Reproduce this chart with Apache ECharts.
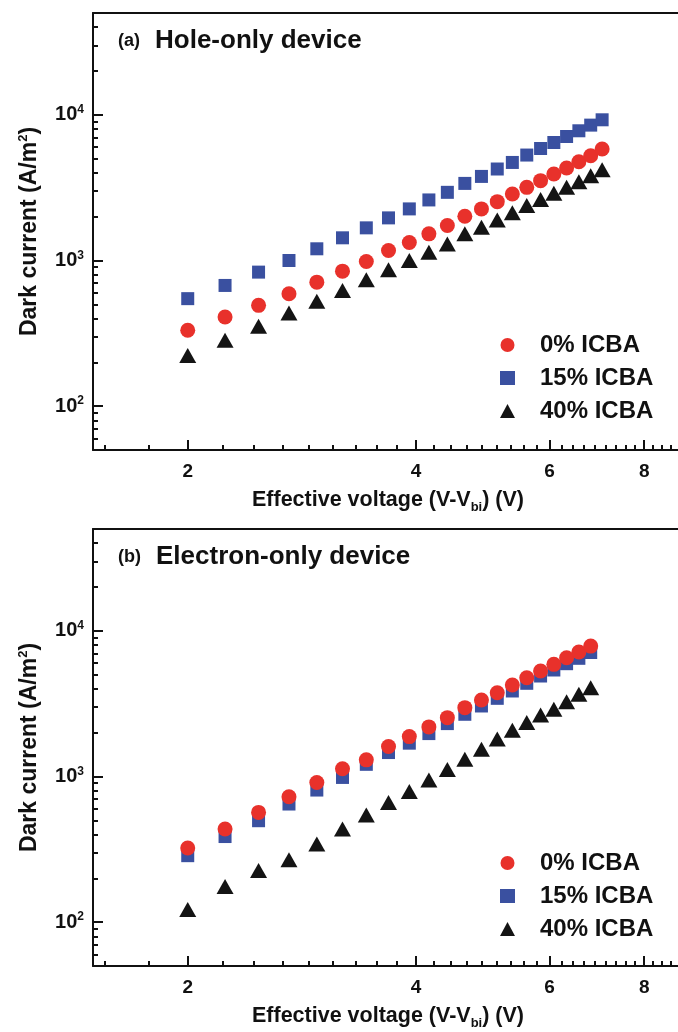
<!DOCTYPE html>
<html>
<head>
<meta charset="utf-8">
<script src="https://cdn.jsdelivr.net/npm/echarts@6/dist/echarts.min.js"></script>
<style>
html, body { margin: 0; padding: 0; background: #fff; }
#chart { width: 678px; height: 1032px; }
</style>
</head>
<body>
<div id="chart"></div>
<script>
// effective voltage (V - Vbi), volts
const voltsHole = [2.00, 2.24, 2.48, 2.72, 2.96, 3.20, 3.44, 3.68, 3.92, 4.16, 4.40, 4.64, 4.88, 5.12, 5.36, 5.60, 5.84, 6.08, 6.32, 6.56, 6.80, 7.04];
const voltsElectron = [2.00, 2.24, 2.48, 2.72, 2.96, 3.20, 3.44, 3.68, 3.92, 4.16, 4.40, 4.64, 4.88, 5.12, 5.36, 5.60, 5.84, 6.08, 6.32, 6.56, 6.80];

// dark current, A/m2 — (a) hole-only device
const hole0 = [332, 409, 492, 591, 710, 845, 984, 1171, 1328, 1524, 1738, 2010, 2260, 2535, 2862, 3177, 3532, 3927, 4316, 4765, 5236, 5821];
const hole15 = [547, 674, 832, 1000, 1203, 1431, 1675, 1961, 2260, 2604, 2937, 3382, 3777, 4246, 4710, 5294, 5873, 6457, 7099, 7770, 8497, 9243];
const hole40 = [223, 283, 353, 436, 526, 623, 738, 864, 1000, 1140, 1298, 1524, 1690, 1900, 2124, 2383, 2620, 2891, 3177, 3475, 3820, 4198];

// (b) electron-only device
const elec0 = [323, 436, 567, 726, 910, 1129, 1301, 1605, 1879, 2190, 2535, 2969, 3350, 3758, 4246, 4764, 5296, 5888, 6535, 7147, 7857];
const elec15 = [286, 387, 497, 647, 807, 985, 1212, 1460, 1693, 1970, 2307, 2673, 3048, 3440, 3863, 4362, 4895, 5383, 5947, 6475, 7097];
const elec40 = [122, 176, 226, 268, 344, 436, 544, 664, 789, 945, 1115, 1315, 1540, 1805, 2080, 2344, 2646, 2894, 3264, 3664, 4071];

const seriesNames = ['0% ICBA', '15% ICBA', '40% ICBA'];

// tick values
const xMajor = [2, 4, 6, 8];
const xMinor = [1.556, 1.778, 2.222, 2.444, 2.667, 2.889, 3.111, 3.333, 3.556, 3.778,
  4.222, 4.444, 4.667, 4.889, 5.111, 5.333, 5.556, 5.778,
  6.222, 6.444, 6.667, 6.889, 7.111, 7.333, 7.556, 7.778,
  8.222, 8.444, 8.667, 8.889];
const yMajor = [100, 1000, 10000];
const yMinor = [60, 70, 80, 90, 200, 300, 400, 500, 600, 700, 800, 900,
  2000, 3000, 4000, 5000, 6000, 7000, 8000, 9000, 20000, 30000, 40000];

const FONT = '"Liberation Sans", Arial, Helvetica, sans-serif';
const INK = '#111';
const RED = '#e8312b';
const BLUE = '#3a50a0';
const BLACK = '#141414';

const panels = [
  { top: 13, tag: '(a)', title: 'Hole-only device', volts: voltsHole, c0: hole0, c15: hole15, c40: hole40, legendTop: 333 },
  { top: 529, tag: '(b)', title: 'Electron-only device', volts: voltsElectron, c0: elec0, c15: elec15, c40: elec40, legendTop: 851 }
];

const lineStyle = { color: INK, width: 2 };
const bold = { fontFamily: FONT, fontWeight: 'bold', color: INK };

function pairs(xs, ys) {
  return xs.map((x, i) => [x, ys[i]]);
}

function xAxesFor(g) {
  const base = { gridIndex: g, type: 'log', logBase: 2, min: 1.5, max: 9, splitLine: { show: false } };
  return [
    Object.assign({}, base, {
      position: 'bottom',
      axisLine: { show: true, lineStyle },
      axisTick: { show: true, inside: true, length: 10, customValues: xMajor, lineStyle },
      axisLabel: Object.assign({ customValues: xMajor, margin: 12, fontSize: 19,
        formatter: v => String(Math.round(v)) }, bold),
      name: '{n|Effective voltage (V-V}{s|bi}{n|) (V)}',
      nameLocation: 'middle',
      nameGap: 38,
      nameTextStyle: {
        rich: {
          n: Object.assign({ fontSize: 21.5, lineHeight: 24 }, bold),
          s: Object.assign({ fontSize: 13, lineHeight: 13, padding: [14, 0, 0, 0] }, bold)
        }
      }
    }),
    Object.assign({}, base, {
      position: 'bottom',
      axisLine: { show: false },
      axisTick: { show: true, inside: true, length: 5, customValues: xMinor, lineStyle },
      axisLabel: { show: false }
    }),
    Object.assign({}, base, {
      position: 'top',
      axisLine: { show: true, lineStyle },
      axisTick: { show: false },
      axisLabel: { show: false }
    })
  ];
}

function yAxesFor(g) {
  const base = { gridIndex: g, type: 'log', logBase: 10, min: 50, max: 50000, splitLine: { show: false } };
  return [
    Object.assign({}, base, {
      position: 'left',
      axisLine: { show: true, lineStyle },
      axisTick: { show: true, inside: true, length: 10, customValues: yMajor, lineStyle },
      axisLabel: {
        customValues: yMajor,
        margin: 9,
        formatter: v => '{b|10}{s|' + Math.round(Math.log10(v)) + '}',
        rich: {
          b: Object.assign({ fontSize: 20, lineHeight: 22 }, bold),
          s: Object.assign({ fontSize: 12, lineHeight: 12, verticalAlign: 'top' }, bold)
        }
      },
      name: '{n|Dark current (A/m}{s|2}{n|)}',
      nameLocation: 'middle',
      nameGap: 50,
      nameTextStyle: {
        rich: {
          n: Object.assign({ fontSize: 23, lineHeight: 26 }, bold),
          s: Object.assign({ fontSize: 13, lineHeight: 13, verticalAlign: 'top' }, bold)
        }
      }
    }),
    Object.assign({}, base, {
      position: 'left',
      axisLine: { show: false },
      axisTick: { show: true, inside: true, length: 5, customValues: yMinor, lineStyle },
      axisLabel: { show: false }
    }),
    Object.assign({}, base, {
      position: 'right',
      axisLine: { show: true, lineStyle },
      axisTick: { show: false },
      axisLabel: { show: false }
    })
  ];
}

const grid = [];
const xAxis = [];
const yAxis = [];
const title = [];
const legend = [];
const series = [];

panels.forEach((p, g) => {
  // the frame runs past the right edge of the picture, as in the source figure
  grid.push({ left: 93, top: p.top, width: 590, height: 437, outerBoundsMode: 'none', containLabel: false });
  xAxis.push(...xAxesFor(g));
  yAxis.push(...yAxesFor(g));
  title.push({
    left: 118,
    top: p.top + 15,
    padding: 0,
    text: '{a|' + p.tag + '}{b|' + p.title + '}',
    textStyle: {
      rich: {
        a: Object.assign({ fontSize: 18 }, bold),
        b: Object.assign({ fontSize: 26, padding: [0, 0, 0, 15] }, bold)
      }
    }
  });
  legend.push({
    left: 500,
    top: p.legendTop,
    padding: 0,
    orient: 'vertical',
    itemWidth: 15,
    itemHeight: 14,
    itemGap: 9,
    selectedMode: false,
    data: seriesNames,
    textStyle: Object.assign({ fontSize: 24, lineHeight: 24, padding: [0, 0, 0, 20] }, bold)
  });
  const ax = g * 3;
  series.push(
    { type: 'scatter', name: '15% ICBA', xAxisIndex: ax, yAxisIndex: ax, symbol: 'rect', symbolSize: 13,
      itemStyle: { color: BLUE, opacity: 1 }, data: pairs(p.volts, p.c15) },
    { type: 'scatter', name: '0% ICBA', xAxisIndex: ax, yAxisIndex: ax, symbol: 'circle', symbolSize: 15,
      itemStyle: { color: RED, opacity: 1 }, data: pairs(p.volts, p.c0) },
    { type: 'scatter', name: '40% ICBA', xAxisIndex: ax, yAxisIndex: ax, symbol: 'triangle', symbolSize: [17, 15],
      itemStyle: { color: BLACK, opacity: 1 }, data: pairs(p.volts, p.c40) }
  );
});

const chart = echarts.init(document.getElementById('chart'), null, { renderer: 'canvas' });
chart.setOption({
  backgroundColor: '#fff',
  animation: false,
  title,
  legend,
  grid,
  xAxis,
  yAxis,
  series
});
</script>
</body>
</html>
